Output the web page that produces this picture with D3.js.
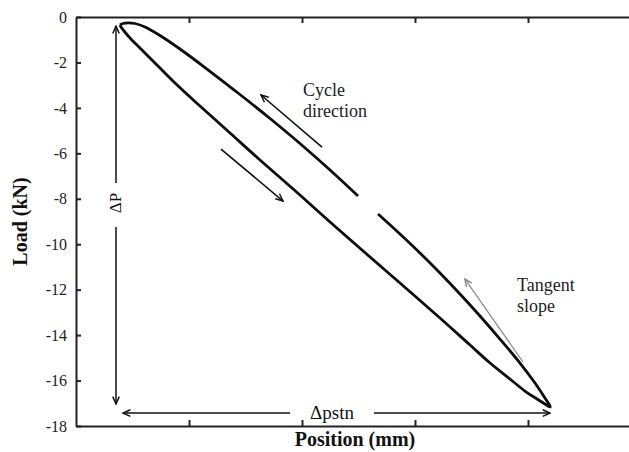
<!DOCTYPE html>
<html>
<head>
<meta charset="utf-8">
<script src="https://cdn.jsdelivr.net/npm/d3@7"></script>
<style>
  html, body { margin: 0; padding: 0; background: #fff; }
  svg { display: block; }
</style>
</head>
<body>
<svg id="chart" width="629" height="452"></svg>
<script>
// One load–displacement cycle (position in mm, load in kN).
// Loading branch: from the low-load tip down to the peak compressive load.
const loadingPosition = [0.389, 0.398, 0.425, 0.478, 0.566, 0.699, 0.876, 1.097, 1.363, 1.628,
  1.982, 2.248, 2.531, 2.867, 3.221, 3.487, 3.664, 3.841, 3.973, 4.080, 4.150, 4.195];
const loadingLoad = [-0.352, -0.440, -0.616, -0.924, -1.364, -2.025, -2.905, -3.917, -5.106, -6.294,
  -7.835, -9.023, -10.255, -11.708, -13.248, -14.437, -15.229, -15.933, -16.461, -16.813, -17.033, -17.165];
// Unloading branch: back from the peak to the low-load tip (null = break in the record).
const unloadingPosition = [4.195, 4.150, 4.062, 3.929, 3.752, 3.575, 3.398, 3.221, 3.044, 2.867, 2.673,
  2.585, 2.496, 2.248, 1.982, 1.717, 1.451, 1.159, 0.920, 0.743, 0.611, 0.522, 0.460, 0.416, 0.389];
const unloadingLoad = [-17.121, -16.769, -16.109, -15.229, -14.173, -13.160, -12.192, -11.268, -10.387, -9.551, -8.671,
  null, -7.878, -6.734, -5.568, -4.467, -3.411, -2.289, -1.408, -0.814, -0.440, -0.286, -0.255, -0.286, -0.352];

// Axis ticks
const loadTicks = [0, -2, -4, -6, -8, -10, -12, -14, -16, -18];
const positionTicks = [1, 2, 3, 4];

// Annotation arrows, [position, load] from tail to head
const cycleArrowUp = [[2.177, -5.722], [1.637, -3.433]];
const cycleArrowDown = [[1.283, -5.810], [1.832, -8.099]];
const tangentArrow = [[3.956, -15.185], [3.442, -11.532]];
// Range markers: ΔP (load span) and Δpstn (position span)
const deltaPPosition = 0.354;
const deltaPLoads = [-0.40, -7.31, -9.24, -17.03];
const deltaPLabelLoad = -8.19;
const deltaPstnLoad = -17.43;
const deltaPstnPositions = [0.416, 1.894, 2.637, 4.195];
const deltaPstnLabelPos = 2.266;

const SERIF = "'Liberation Serif', 'Times New Roman', 'DejaVu Serif', serif";

const svg = d3.select("#chart");
const W = 629, H = 452;
const margin = { left: 76, top: 17, bottom: 26 };

const x = d3.scaleLinear().domain([0, 5]).range([margin.left, margin.left + 565]);
const y = d3.scaleLinear().domain([-18, 0]).range([H - margin.bottom, margin.top]);

svg.append("rect").attr("width", W).attr("height", H).attr("fill", "#fff");

const defs = svg.append("defs");
function addArrowMarker(id, color, size) {
  defs.append("marker")
    .attr("id", id)
    .attr("viewBox", "-1 -5 11 10")
    .attr("refX", 9).attr("refY", 0)
    .attr("markerUnits", "userSpaceOnUse")
    .attr("markerWidth", size).attr("markerHeight", size)
    .attr("orient", "auto-start-reverse")
    .append("path")
    .attr("d", "M0,-4L9,0L0,4")
    .attr("fill", "none")
    .attr("stroke", color)
    .attr("stroke-width", 1.8);
}
addArrowMarker("arrowBlack", "#111", 9);
addArrowMarker("arrowGray", "#8a8a8a", 9);

// Axes: left with values, top and bottom with bare ticks pointing inward
const yAxis = d3.axisLeft(y).tickValues(loadTicks).tickFormat(d => String(d))
  .tickSizeInner(-5).tickSizeOuter(0).tickPadding(9);
const gy = svg.append("g").attr("transform", `translate(${margin.left},0)`).call(yAxis);
gy.attr("font-family", SERIF).attr("font-size", 16);
gy.selectAll("text").attr("fill", "#222").style("font-family", SERIF).style("font-size", "16px");

const xAxisBottom = d3.axisBottom(x).tickValues(positionTicks).tickFormat("")
  .tickSizeInner(-6).tickSizeOuter(0);
svg.append("g").attr("transform", `translate(0,${y(-18)})`).call(xAxisBottom);
const xAxisTop = d3.axisTop(x).tickValues(positionTicks).tickFormat("")
  .tickSizeInner(-6).tickSizeOuter(0);
svg.append("g").attr("transform", `translate(0,${y(0)})`).call(xAxisTop);

svg.selectAll(".domain").attr("stroke", "#222").attr("stroke-width", 2);
svg.selectAll(".tick line").attr("stroke", "#222").attr("stroke-width", 2);

// The hysteresis loop
const loop = [];
loadingPosition.forEach((p, i) => loop.push({ p, l: loadingLoad[i] }));
unloadingPosition.forEach((p, i) => loop.push({ p, l: unloadingLoad[i] }));
const loopLine = d3.line()
  .defined(d => d.l !== null)
  .x(d => x(d.p)).y(d => y(d.l))
  .curve(d3.curveCatmullRom.alpha(0.5));
svg.append("path").datum(loop)
  .attr("d", loopLine)
  .attr("fill", "none")
  .attr("stroke", "#0d0d0d")
  .attr("stroke-width", 2.8)
  .attr("stroke-linejoin", "round");

const seg = d3.line().x(d => x(d[0])).y(d => y(d[1]));

// Cycle direction arrows
[cycleArrowUp, cycleArrowDown].forEach(a => {
  svg.append("path").attr("d", seg(a))
    .attr("stroke", "#111").attr("stroke-width", 1.6).attr("fill", "none")
    .attr("marker-end", "url(#arrowBlack)");
});

// Tangent slope arrow
svg.append("path").attr("d", seg(tangentArrow))
  .attr("stroke", "#8a8a8a").attr("stroke-width", 1.2).attr("fill", "none")
  .attr("marker-end", "url(#arrowGray)");

// ΔP range arrow (two halves around the label)
svg.append("path").attr("d", seg([[deltaPPosition, deltaPLoads[1]], [deltaPPosition, deltaPLoads[0]]]))
  .attr("stroke", "#111").attr("stroke-width", 1.5).attr("fill", "none")
  .attr("marker-end", "url(#arrowBlack)");
svg.append("path").attr("d", seg([[deltaPPosition, deltaPLoads[2]], [deltaPPosition, deltaPLoads[3]]]))
  .attr("stroke", "#111").attr("stroke-width", 1.5).attr("fill", "none")
  .attr("marker-end", "url(#arrowBlack)");
svg.append("text")
  .attr("transform", `translate(${x(deltaPPosition) + 5},${y(deltaPLabelLoad)}) rotate(-90)`)
  .attr("text-anchor", "middle")
  .style("font-family", SERIF)
  .style("font-size", "17px")
  .attr("fill", "#111")
  .text("ΔP");

// Δpstn range arrow
svg.append("path").attr("d", seg([[deltaPstnPositions[1], deltaPstnLoad], [deltaPstnPositions[0], deltaPstnLoad]]))
  .attr("stroke", "#111").attr("stroke-width", 1.5).attr("fill", "none")
  .attr("marker-end", "url(#arrowBlack)");
svg.append("path").attr("d", seg([[deltaPstnPositions[2], deltaPstnLoad], [deltaPstnPositions[3], deltaPstnLoad]]))
  .attr("stroke", "#111").attr("stroke-width", 1.5).attr("fill", "none")
  .attr("marker-end", "url(#arrowBlack)");
svg.append("text")
  .attr("x", x(deltaPstnLabelPos)).attr("y", y(deltaPstnLoad) + 6)
  .attr("text-anchor", "middle")
  .style("font-family", SERIF)
  .style("font-size", "19px")
  .attr("fill", "#111")
  .text("Δpstn");

// Text notes
const notes = [
  { p: 2.009, l: -3.48, t: "Cycle" },
  { p: 2.009, l: -4.40, t: "direction" },
  { p: 3.903, l: -12.06, t: "Tangent" },
  { p: 3.903, l: -12.99, t: "slope" }
];
svg.selectAll("text.note").data(notes).enter().append("text")
  .attr("class", "note")
  .attr("x", d => x(d.p)).attr("y", d => y(d.l))
  .style("font-family", SERIF)
  .style("font-size", "18px")
  .attr("fill", "#222")
  .text(d => d.t);

// Axis titles
svg.append("text")
  .attr("x", 355).attr("y", 446)
  .attr("text-anchor", "middle")
  .style("font-family", SERIF)
  .style("font-size", "20px").style("font-weight", "bold")
  .attr("fill", "#111")
  .text("Position (mm)");
svg.append("text")
  .attr("transform", `translate(27,${(y(0) + y(-18)) / 2}) rotate(-90)`)
  .attr("text-anchor", "middle")
  .style("font-family", SERIF)
  .style("font-size", "20px").style("font-weight", "bold")
  .attr("fill", "#111")
  .text("Load (kN)");
</script>
</body>
</html>
